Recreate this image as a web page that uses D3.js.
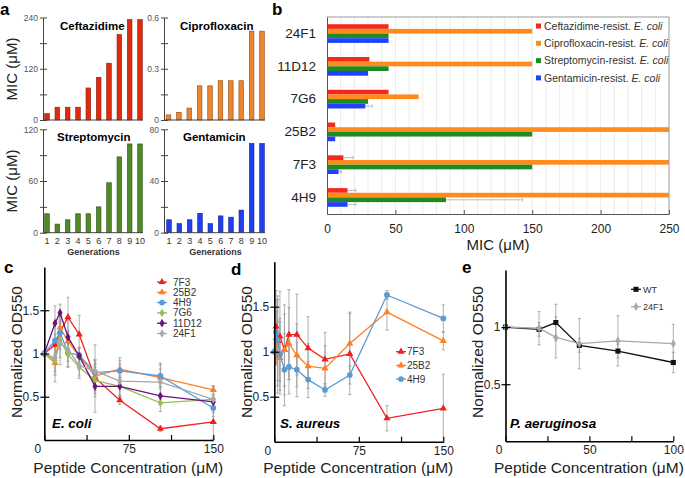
<!DOCTYPE html>
<html><head><meta charset="utf-8">
<script src="https://cdn.jsdelivr.net/npm/d3@7"></script>
<style>body{margin:0;background:#fff}svg{display:block}text{font-family:"Liberation Sans",Arial,Helvetica,sans-serif}</style>
</head><body><svg id="chart" width="685" height="478"></svg>
<script>
// ---------- DATA ----------
const generations = [1,2,3,4,5,6,7,8,9,10];
const ceftazidime = [15,30,30,30,75,100,133,200,235,235];
const ciprofloxacin = [0.03,0.045,0.07,0.2,0.2,0.23,0.23,0.23,0.52,0.52];
const streptomycin = [22,10,15,22,22,30,58,88,103,103];
const gentamicin = [10,7,10,15,7,13,12,17.5,69,69];

const micStrains = ["24F1","11D12","7G6","25B2","7F3","4H9"];
const micSeriesNames = ["Ceftazidime-resist.","Ciprofloxacin-resist.","Streptomycin-resist.","Gentamicin-resist."];
const micCeftazidime   = [45,31,45,6,12,15];
const micCiprofloxacin = [150,150,67,250,250,250];
const micStreptomycin  = [45,45,30,150,150,87];
const micGentamicin    = [45,30,28,6,8.5,15];
const micErrCeftazidime   = [0,0,0,0,7,6];
const micErrCiprofloxacin = [0,0,0,0,0,0];
const micErrStreptomycin  = [0,0,0,0,0,56];
const micErrGentamicin    = [0,0,5,0,2,6];
const micTicks = [0,50,100,150,200,250];

const ecoliConc = [0,9.5,14,21,31,45,67,103,150];
const ecoli7F3  = [1.0,1.1,1.25,1.42,1.22,0.72,0.46,0.13,0.21];
const ecoli25B2 = [1.0,0.89,1.30,1.14,0.97,0.74,0.82,0.72,0.58];
const ecoli4H9  = [1.0,1.15,1.24,1.01,0.98,0.78,0.80,0.74,0.37];
const ecoli7G6  = [1.0,0.92,1.15,0.99,0.84,0.69,0.62,0.43,0.47];
const ecoli11D12= [1.0,1.35,1.47,1.19,0.97,0.62,0.62,0.51,0.44];
const ecoli24F1 = [1.0,0.95,1.12,1.05,0.86,0.80,0.68,0.67,0.47];
const ecoliErr7F3  = [0,0.12,0.2,0.23,0.22,0.15,0.05,0.03,0.2];
const ecoliErr25B2 = [0,0.1,0.15,0.12,0.1,0.15,0.1,0.1,0.05];
const ecoliErr4H9  = [0,0.2,0.15,0.1,0.08,0.15,0.15,0.15,0.1];
const ecoliErr7G6  = [0,0.25,0.2,0.15,0.1,0.15,0.12,0.1,0.05];
const ecoliErr11D12= [0,0.2,0.1,0.2,0.1,0.3,0.1,0.1,0.05];
const ecoliErr24F1 = [0,0.2,0.25,0.2,0.15,0.3,0.2,0.2,0.15];

const aureusConc = [0,1.5,3,5,9,13,20,30,45,67,100,150];
const aureus7F3  = [1.0,1.28,1.12,1.17,1.02,1.19,1.19,1.04,0.915,0.975,0.26,0.37];
const aureus25B2 = [1.0,1.15,0.94,0.93,1.02,1.09,0.96,0.84,0.815,1.09,1.44,1.12];
const aureus4H9  = [1.0,1.22,1.13,0.97,0.80,0.83,0.80,0.69,0.575,0.74,1.63,1.37];
const aureusErr7F3  = [0,0.4,0.5,0.5,0.5,0.5,0.45,0.35,0.3,0.45,0.14,0.38];
const aureusErr25B2 = [0,0.3,0.4,0.4,0.4,0.4,0.35,0.25,0.25,0.35,0.2,0.1];
const aureusErr4H9  = [0,0.35,0.45,0.4,0.4,0.3,0.3,0.2,0.07,0.1,0.05,0.15];

const paConc = [0,20,30,44,67,100];
const paWT   = [1.0,0.98,1.04,0.84,0.79,0.69];
const pa24F1 = [1.0,0.99,0.91,0.855,0.88,0.855];
const paErrWT   = [0,0.06,0.16,0.06,0.06,0.09];
const paErr24F1 = [0,0.145,0.18,0.22,0.22,0.17];

// ---------- DRAW ----------
const svg = d3.select("#chart");

function label(x,y,t,opt={}){
  const el = svg.append("text").attr("x",x).attr("y",y).text(t)
    .attr("font-size",opt.size||12).attr("fill",opt.fill||"#000");
  if(opt.bold) el.attr("font-weight","bold");
  if(opt.italic) el.attr("font-style","italic");
  if(opt.anchor) el.attr("text-anchor",opt.anchor);
  if(opt.rotate) el.attr("transform",`rotate(-90,${x},${y})`);
  return el;
}

// panel letters
label(0,15,"a",{size:17,bold:true});
label(272,15,"b",{size:17,bold:true});
label(4,273,"c",{size:17,bold:true});
label(231,275,"d",{size:17,bold:true});
label(462,273,"e",{size:17,bold:true});

// ---- panel a ----
function barPanel(o){
  const x = d3.scalePoint().domain(generations).range([o.c0,o.c1]);
  const y = d3.scaleLinear().domain([0,o.max]).range([o.yb,o.yt]);
  const g = svg.append("g");
  const bw = 4.6;
  g.selectAll("rect").data(o.values).join("rect")
    .attr("x",(d,i)=>x(generations[i])-bw/2).attr("width",bw)
    .attr("y",d=>y(d)).attr("height",d=>y(0)-y(d))
    .attr("fill",o.color).attr("stroke",o.stroke).attr("stroke-width",0.6);
  const ax = g.append("g").attr("transform",`translate(${o.ax},0)`)
    .call(d3.axisLeft(y).tickValues(d3.range(0,5).map(i=>o.max*i/4))
      .tickFormat((d,i)=> i%2===0 ? d3.format("~g")(d) : "").tickSizeInner(3).tickSizeOuter(0).tickPadding(2));
  ax.select(".domain").attr("stroke","#444");
  ax.selectAll(".tick line").attr("x1",4).attr("stroke","#444");
  ax.selectAll("text").attr("font-size",8.5).attr("fill","#555").attr("font-family",'"Liberation Sans",Arial,sans-serif');
  g.append("line").attr("x1",o.ax).attr("x2",o.xend).attr("y1",o.yb).attr("y2",o.yb).attr("stroke","#444");
  label(o.tx,o.ty,o.title,{size:11.5,bold:true});
  if(o.gen){
    g.selectAll("text.gen").data(generations).join("text").attr("class","gen")
      .attr("x",d=>x(d)).attr("y",o.yb+11).attr("text-anchor","middle")
      .attr("font-size",9).attr("fill","#333").text(d=>d);
    label((o.c0+o.c1)/2,o.yb+22,"Generations",{size:9,bold:true,anchor:"middle",fill:"#333"});
  }
}
barPanel({values:ceftazidime,max:240,c0:47,c1:140,ax:43,xend:143,yb:120,yt:17.5,color:"#df2a0e",stroke:"#8a1a08",title:"Ceftazidime",tx:60,ty:30});
barPanel({values:ciprofloxacin,max:0.6,c0:168.5,c1:262,ax:164,xend:265,yb:120,yt:17.5,color:"#ec8530",stroke:"#8e4e14",title:"Ciprofloxacin",tx:180,ty:30});
barPanel({values:streptomycin,max:120,c0:47,c1:140,ax:43,xend:143,yb:232.7,yt:129.3,color:"#4f8a24",stroke:"#2e5212",title:"Streptomycin",tx:57,ty:141,gen:true});
barPanel({values:gentamicin,max:80,c0:169,c1:262,ax:164,xend:265,yb:232.7,yt:129.3,color:"#2040f0",stroke:"#10208a",title:"Gentamicin",tx:183,ty:141,gen:true});
label(17,69,"MIC (μM)",{size:15,anchor:"middle",rotate:true,fill:"#222"});
label(17,181,"MIC (μM)",{size:15,anchor:"middle",rotate:true,fill:"#222"});

// ---- panel b ----
(function(){
  const x = d3.scaleLinear().domain([0,250]).range([327,669]);
  const y = d3.scaleBand().domain(micStrains).range([17,214]).paddingInner(0.43).paddingOuter(0.22);
  const sub = d3.scaleBand().domain(micSeriesNames).range([0,y.bandwidth()]);
  const colors = ["#f5281c","#ff8a1e","#1f8a1f","#1f40ff"];
  const vals = [micCeftazidime,micCiprofloxacin,micStreptomycin,micGentamicin];
  const errs = [micErrCeftazidime,micErrCiprofloxacin,micErrStreptomycin,micErrGentamicin];
  const g = svg.append("g");
  g.selectAll("line.grid").data(d3.range(10,250,10)).join("line").attr("class","grid")
    .attr("x1",d=>x(d)).attr("x2",d=>x(d)).attr("y1",17).attr("y2",214)
    .attr("stroke","#e6e6e6").attr("stroke-width",0.8);
  micSeriesNames.forEach((s,k)=>{
    g.selectAll("rect.s"+k).data(vals[k]).join("rect").attr("class","s"+k)
      .attr("x",x(0)).attr("y",(d,i)=>y(micStrains[i])+sub(s))
      .attr("width",d=>x(d)-x(0)).attr("height",sub.bandwidth()).attr("fill",colors[k]);
    errs[k].forEach((e,i)=>{
      if(e<=0) return;
      const cy = y(micStrains[i])+sub(s)+sub.bandwidth()/2;
      g.append("line").attr("x1",x(vals[k][i])).attr("x2",x(vals[k][i]+e)).attr("y1",cy).attr("y2",cy).attr("stroke","#aaa").attr("stroke-width",0.8);
      g.append("line").attr("x1",x(vals[k][i]+e)).attr("x2",x(vals[k][i]+e)).attr("y1",cy-1.8).attr("y2",cy+1.8).attr("stroke","#aaa").attr("stroke-width",0.8);
    });
  });
  // frame
  g.append("line").attr("x1",327).attr("x2",669).attr("y1",17).attr("y2",17).attr("stroke","#999");
  g.append("line").attr("x1",669).attr("x2",669).attr("y1",17).attr("y2",214).attr("stroke","#999");
  const xa = g.append("g").attr("transform","translate(0,214)")
    .call(d3.axisBottom(x).tickValues(micTicks).tickSizeInner(-4).tickSizeOuter(0).tickPadding(10));
  xa.select(".domain").attr("stroke","#555");
  xa.selectAll(".tick line").attr("stroke","#555");
  xa.selectAll("text").attr("font-size",12).attr("fill","#222").attr("font-family",'"Liberation Sans",Arial,sans-serif');
  const ya = g.append("g").attr("transform","translate(327,0)")
    .call(d3.axisLeft(y).tickSize(0).tickPadding(11));
  ya.select(".domain").attr("stroke","#555");
  ya.selectAll("text").attr("font-size",13.5).attr("fill","#222").attr("font-family",'"Liberation Sans",Arial,sans-serif');
  label(498,250,"MIC (μM)",{size:15,anchor:"middle",fill:"#222"});
  // legend
  g.append("rect").attr("x",533).attr("y",18).attr("width",135).attr("height",67).attr("fill","#fff");
  micSeriesNames.forEach((s,k)=>{
    const cy = 26+k*17.3;
    g.append("rect").attr("x",536).attr("y",cy-2.5).attr("width",5).attr("height",5).attr("fill",colors[k]);
    const t = g.append("text").attr("x",544).attr("y",cy+3.7).attr("font-size",10.5).attr("fill","#333");
    t.append("tspan").text(s+" ");
    t.append("tspan").attr("font-style","italic").text("E. coli");
  });
})();

// ---- line panels ----
function symbolPath(type,size){ return d3.symbol().type(type).size(size)(); }
function linePanel(o){
  const x = d3.scaleLinear().domain(o.xd).range(o.xr);
  const y = d3.scaleLinear().domain(o.yd).range(o.yr);
  const g = svg.append("g");
  // error bars first
  o.series.forEach(s=>{
    s.vals.forEach((v,i)=>{
      const e = s.errs[i]; if(!e) return;
      const cx = x(o.conc[i]);
      g.append("line").attr("x1",cx).attr("x2",cx).attr("y1",y(v-e)).attr("y2",y(v+e)).attr("stroke","#9a9a9a").attr("stroke-width",0.8);
      [v-e,v+e].forEach(w=>g.append("line").attr("x1",cx-1.6).attr("x2",cx+1.6).attr("y1",y(w)).attr("y2",y(w)).attr("stroke","#9a9a9a").attr("stroke-width",0.8));
    });
  });
  o.series.forEach(s=>{
    const line = d3.line().x((d,i)=>x(o.conc[i])).y(d=>y(d));
    g.append("path").attr("d",line(s.vals)).attr("fill","none").attr("stroke",s.color).attr("stroke-width",1.3);
    g.selectAll(null).data(s.vals).join("path")
      .attr("transform",(d,i)=>`translate(${x(o.conc[i])},${y(d)})`)
      .attr("d",symbolPath(s.sym,s.size||22)).attr("fill",s.color);
  });
  const ya = g.append("g").attr("transform",`translate(${o.xr[0]},0)`)
    .call(d3.axisLeft(y).tickValues(o.yt).tickFormat(d3.format("~g")).tickSizeInner(4).tickSizeOuter(0).tickPadding(1));
  ya.select(".domain").attr("stroke","#000").attr("stroke-width",1.6);
  ya.selectAll(".tick line").attr("x1",5).attr("stroke","#000").attr("stroke-width",1.2);
  ya.selectAll("text").attr("font-size",12).attr("fill","#222").attr("font-family",'"Liberation Sans",Arial,sans-serif');
  const xa = g.append("g").attr("transform",`translate(0,${o.yr[0]})`)
    .call(d3.axisBottom(x).tickValues(o.xt).tickFormat(d=>o.xl.includes(d)?d:"").tickSizeInner(-5).tickSizeOuter(0));
  xa.select(".domain").attr("stroke","#000").attr("stroke-width",1.6);
  xa.selectAll(".tick line").attr("stroke","#000").attr("stroke-width",1.2);
  xa.selectAll("text").attr("y",4.5).attr("font-size",12).attr("fill","#222").attr("font-family",'"Liberation Sans",Arial,sans-serif')
    .attr("dx",d=>d===0?-7:0);
  label((o.xr[0]+o.xr[1])/2-0.5,473,"Peptide Concentration (μM)",{size:15.5,anchor:"middle",fill:"#222"});
  label(o.ylx,352,"Normalized OD550",{size:15.5,anchor:"middle",rotate:true,fill:"#222"});
  label(o.orgX,428,o.org,{size:13.4,bold:true,italic:true});
  // legend
  o.series.forEach((s,k)=>{
    const cy = o.leg.y + k*o.leg.dy;
    g.append("line").attr("x1",o.leg.x-5).attr("x2",o.leg.x+5).attr("y1",cy).attr("y2",cy).attr("stroke",s.color).attr("stroke-width",1.3);
    g.append("path").attr("transform",`translate(${o.leg.x},${cy})`).attr("d",symbolPath(s.sym,s.size||22)).attr("fill",s.color);
    g.append("text").attr("x",o.leg.x+o.leg.tx).attr("y",cy+3.5).attr("font-size",o.leg.fs).attr("fill","#333").text(s.name);
  });
}

linePanel({
  xd:[0,150], xr:[44.3,213.3], yd:[0,2], yr:[440,267],
  conc:ecoliConc, yt:[0.5,1,1.5], xt:[37.5,75,112.5,150,0], xl:[0,75,150],
  ylx:21.5, org:"E. coli", orgX:52,
  leg:{x:162,y:282,dy:10.3,tx:11,fs:10},
  series:[
    {name:"7F3",vals:ecoli7F3,errs:ecoliErr7F3,color:"#f0201c",sym:d3.symbolTriangle},
    {name:"25B2",vals:ecoli25B2,errs:ecoliErr25B2,color:"#ff7f27",sym:d3.symbolTriangle},
    {name:"4H9",vals:ecoli4H9,errs:ecoliErr4H9,color:"#5b9bd5",sym:d3.symbolCircle,size:26},
    {name:"7G6",vals:ecoli7G6,errs:ecoliErr7G6,color:"#92c050",sym:d3.symbolDiamond},
    {name:"11D12",vals:ecoli11D12,errs:ecoliErr11D12,color:"#6a1478",sym:d3.symbolDiamond},
    {name:"24F1",vals:ecoli24F1,errs:ecoliErr24F1,color:"#a8a8a8",sym:d3.symbolDiamond}
  ]
});
linePanel({
  xd:[0,150], xr:[274.3,443.3], yd:[0,2], yr:[441.7,261.7],
  conc:aureusConc, yt:[0.5,1,1.5], xt:[37.5,75,112.5,150,0], xl:[0,75,150],
  ylx:251.5, org:"S. aureus", orgX:280,
  leg:{x:401,y:351.7,dy:13.7,tx:6,fs:10},
  series:[
    {name:"7F3",vals:aureus7F3,errs:aureusErr7F3,color:"#f0201c",sym:d3.symbolTriangle},
    {name:"25B2",vals:aureus25B2,errs:aureusErr25B2,color:"#ff7f27",sym:d3.symbolTriangle},
    {name:"4H9",vals:aureus4H9,errs:aureusErr4H9,color:"#5b9bd5",sym:d3.symbolCircle,size:26}
  ]
});
linePanel({
  xd:[0,100], xr:[505.5,673.3], yd:[0,1.5], yr:[441.3,270],
  conc:paConc, yt:[0.5,1], xt:[25,50,75,100,0], xl:[0,50,100],
  ylx:483, org:"P. aeruginosa", orgX:510,
  leg:{x:636,y:289.3,dy:17.4,tx:7,fs:9},
  series:[
    {name:"WT",vals:paWT,errs:paErrWT,color:"#111",sym:d3.symbolSquare,size:26},
    {name:"24F1",vals:pa24F1,errs:paErr24F1,color:"#a8a8a8",sym:d3.symbolDiamond}
  ]
});
</script></body></html>
